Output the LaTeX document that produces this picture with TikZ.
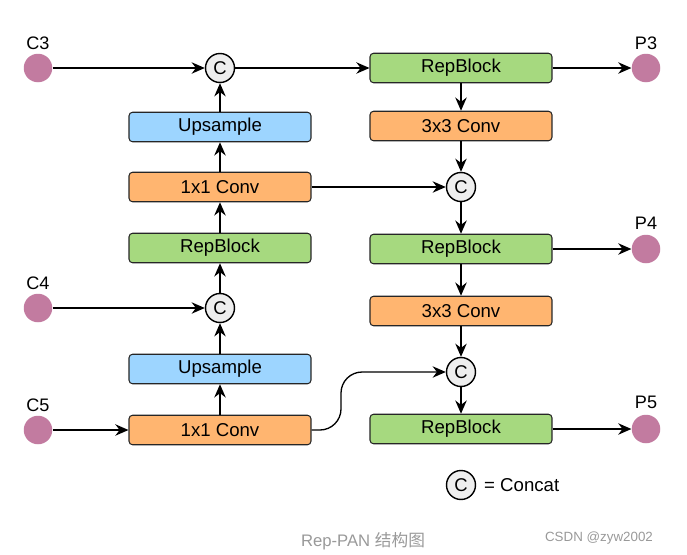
\documentclass[tikz,border=0pt]{standalone}
\usepackage{fontspec}
\setmainfont{Liberation Sans}
\newfontfamily\cjkfont{Noto Sans CJK SC}
\usetikzlibrary{arrows.meta, positioning}
\definecolor{featpink}{HTML}{C27BA0}
\definecolor{convorange}{HTML}{FFB570}
\definecolor{upblue}{HTML}{9DD5FF}
\definecolor{repgreen}{HTML}{A6D97F}
\definecolor{catgray}{HTML}{EEEEEE}
\definecolor{captgray}{HTML}{999999}
\tikzset{
  block/.style={
    rectangle, rounded corners=2pt, minimum width=3.64cm, minimum height=0.59cm,
    text centered, draw=black!85, line width=0.6pt, inner sep=0pt,
    font=\fontsize{10.6}{12}\selectfont
  },
  conv/.style={block, fill=convorange},
  upsmp/.style={block, fill=upblue},
  repblk/.style={block, fill=repgreen},
  feat/.style={circle, fill=featpink, minimum size=0.57cm, inner sep=0pt},
  concat/.style={
    circle, draw=black, fill=catgray, line width=0.8pt, minimum size=0.58cm,
    inner sep=0pt, font=\fontsize{10.5}{12}\selectfont
  },
  featlabel/.style={font=\fontsize{10.3}{12}\selectfont},
  arrow/.style={
    -{Stealth[length=7.5pt,width=6.5pt]}, line width=0.75pt, color=black
  }
}
\begin{document}
\begin{tikzpicture}[x=0.02cm, y=-0.02cm]
      \useasboundingbox (0,0) rectangle (687,555);

      % Inputs
      \node[feat] (c3) at (38,68) {};
      \node[featlabel] at (38,43) {C3};
      \node[feat] (c4) at (38,308) {};
      \node[featlabel] at (38,283) {C4};
      \node[feat] (c5) at (38,430) {};
      \node[featlabel] at (38,405) {C5};

      % Top-down path
      \node[conv] (convB) at (220,430) {1x1 Conv};
      \node[upsmp] (upB) at (220,369) {Upsample};
      \node[concat] (catB) at (220,308) {C};
      \node[repblk] (repL) at (220,248) {RepBlock};
      \node[conv] (convT) at (220,187) {1x1 Conv};
      \node[upsmp] (upT) at (220,127) {Upsample};
      \node[concat] (catT) at (220,68) {C};

      % Bottom-up path
      \node[repblk] (repT) at (461,68) {RepBlock};
      \node[conv] (dsT) at (461,126) {3x3 Conv};
      \node[concat] (catM) at (461,187) {C};
      \node[repblk] (repM) at (461,249) {RepBlock};
      \node[conv] (dsM) at (461,311) {3x3 Conv};
      \node[concat] (catR) at (461,372) {C};
      \node[repblk] (repB) at (461,429) {RepBlock};

      % Outputs
      \node[feat] (p3) at (646,68) {};
      \node[featlabel] at (646,43) {P3};
      \node[feat] (p4) at (646,249) {};
      \node[featlabel] at (646,223) {P4};
      \node[feat] (p5) at (646,429) {};
      \node[featlabel] at (646,402) {P5};

      % Connections
      \draw[arrow] (c5) -- (convB);
      \draw[arrow] (convB) -- (upB);
      \draw[arrow] (upB) -- (catB);
      \draw[arrow] (c4) -- (catB);
      \draw[arrow] (catB) -- (repL);
      \draw[arrow] (repL) -- (convT);
      \draw[arrow] (convT) -- (upT);
      \draw[arrow] (upT) -- (catT);
      \draw[arrow] (c3) -- (catT);
      \draw[arrow] (catT) -- (repT);
      \draw[arrow] (repT) -- (p3);
      \draw[arrow] (repT) -- (dsT);
      \draw[arrow] (dsT) -- (catM);
      \draw[arrow] (convT) -- (catM);
      \draw[arrow] (catM) -- (repM);
      \draw[arrow] (repM) -- (p4);
      \draw[arrow] (repM) -- (dsM);
      \draw[arrow] (dsM) -- (catR);
      \draw[arrow, rounded corners=12pt] (convB.east) -| (341,372) -- (catR);
      \draw[arrow] (catR) -- (repB);
      \draw[arrow] (repB) -- (p5);

      % Legend
      \node[concat] (legend) at (461,485) {C};
      \node[font=\fontsize{10.6}{12}\selectfont, right=1pt of legend] {= Concat};

      % Caption
      \node[font=\fontsize{9.5}{12}\selectfont, text=captgray] at (363,541) {Rep-PAN {\cjkfont 结构图}};
      \node[font=\fontsize{7.6}{10}\selectfont, text=captgray] at (599,538) {CSDN @zyw2002};
    \end{tikzpicture}
\end{document}
